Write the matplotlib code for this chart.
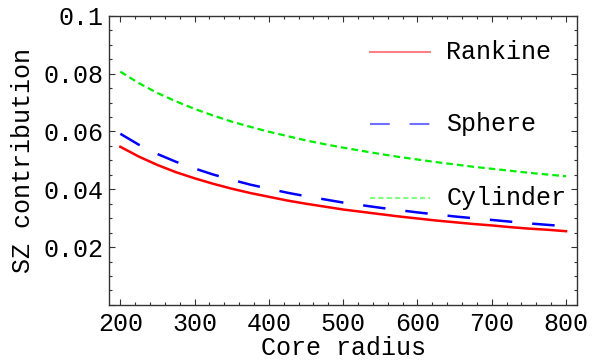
import matplotlib.pyplot as plt
from matplotlib.lines import Line2D
from matplotlib.ticker import MultipleLocator, FuncFormatter

# core radius values
radius = [200, 225, 250, 275, 300, 325, 350, 375, 400, 425, 450, 475, 500,
          525, 550, 575, 600, 625, 650, 675, 700, 725, 750, 775, 800]

# SZ contribution
rankine = [0.0547, 0.0513, 0.0484, 0.0459, 0.0438, 0.0419, 0.0402, 0.0387, 0.0374,
           0.0361, 0.0350, 0.0340, 0.0330, 0.0322, 0.0314, 0.0306, 0.0299, 0.0292,
           0.0286, 0.0280, 0.0275, 0.0269, 0.0264, 0.0260, 0.0255]
sphere = [0.0592, 0.0554, 0.0522, 0.0495, 0.0472, 0.0451, 0.0433, 0.0416, 0.0402,
          0.0388, 0.0376, 0.0365, 0.0354, 0.0345, 0.0336, 0.0328, 0.0320, 0.0313,
          0.0306, 0.0300, 0.0294, 0.0288, 0.0282, 0.0277, 0.0272]
cylinder = [0.0807, 0.0767, 0.0733, 0.0704, 0.0678, 0.0655, 0.0634, 0.0616, 0.0599,
            0.0584, 0.0569, 0.0556, 0.0544, 0.0533, 0.0522, 0.0512, 0.0503, 0.0494,
            0.0486, 0.0478, 0.0471, 0.0464, 0.0457, 0.0451, 0.0445]

labels = ["Rankine", "Sphere", "Cylinder"]

plt.rcParams["font.family"] = ["Liberation Mono", "DejaVu Sans"]

fig = plt.figure(figsize=(6, 3.6), dpi=100)
ax = fig.add_axes([0.182, 0.153, 0.780, 0.803])

ax.plot(radius, rankine, color="#ff0000", lw=1.8)
ax.plot(radius, sphere, color="#0000ff", lw=1.8, dashes=(9, 8))
ax.plot(radius, cylinder, color="#00ee00", lw=1.6, dashes=(3, 1.8))

ax.set_xlim(185, 815)
ax.set_ylim(0, 0.1)

ax.xaxis.set_major_locator(MultipleLocator(100))
ax.xaxis.set_minor_locator(MultipleLocator(20))
ax.yaxis.set_major_locator(MultipleLocator(0.02))
ax.yaxis.set_minor_locator(MultipleLocator(0.005))

def yfmt(v, pos):
    if v < 1e-9:
        return ""
    if abs(v - 0.1) < 1e-9:
        return "0.1"
    return "%.2f" % v

ax.yaxis.set_major_formatter(FuncFormatter(yfmt))

ax.tick_params(which="both", direction="in", top=True, right=True, colors="#333333",
               labelcolor="black", labelsize=18, width=0.8)
ax.tick_params(which="major", length=4)
ax.tick_params(which="minor", length=2)
ax.tick_params(axis="y", pad=4)
ax.tick_params(axis="x", pad=5)
for s in ax.spines.values():
    s.set_color("#333333")
    s.set_linewidth(1.0)

ax.set_xlabel("Core radius", fontsize=18, labelpad=0)
ax.set_ylabel("SZ contribution", fontsize=18, labelpad=6)

# legend drawn inside the frame, Mathematica style
leg_colors = ["#ff8080", "#7070ff", "#80ff80"]
leg_dashes = [None, (9.5, 9.5), (2.5, 1.5)]
leg_y = [0.875, 0.626, 0.370]
for lab, c, d, yy in zip(labels, leg_colors, leg_dashes, leg_y):
    ln = Line2D([0.558, 0.686], [yy, yy], transform=ax.transAxes, color=c, lw=1.5)
    if d is not None:
        ln.set_dashes(d)
    ax.add_line(ln)
    ax.text(0.720, yy, lab, transform=ax.transAxes, fontsize=18, va="center", ha="left")

fig.savefig("out.png", dpi=100)
